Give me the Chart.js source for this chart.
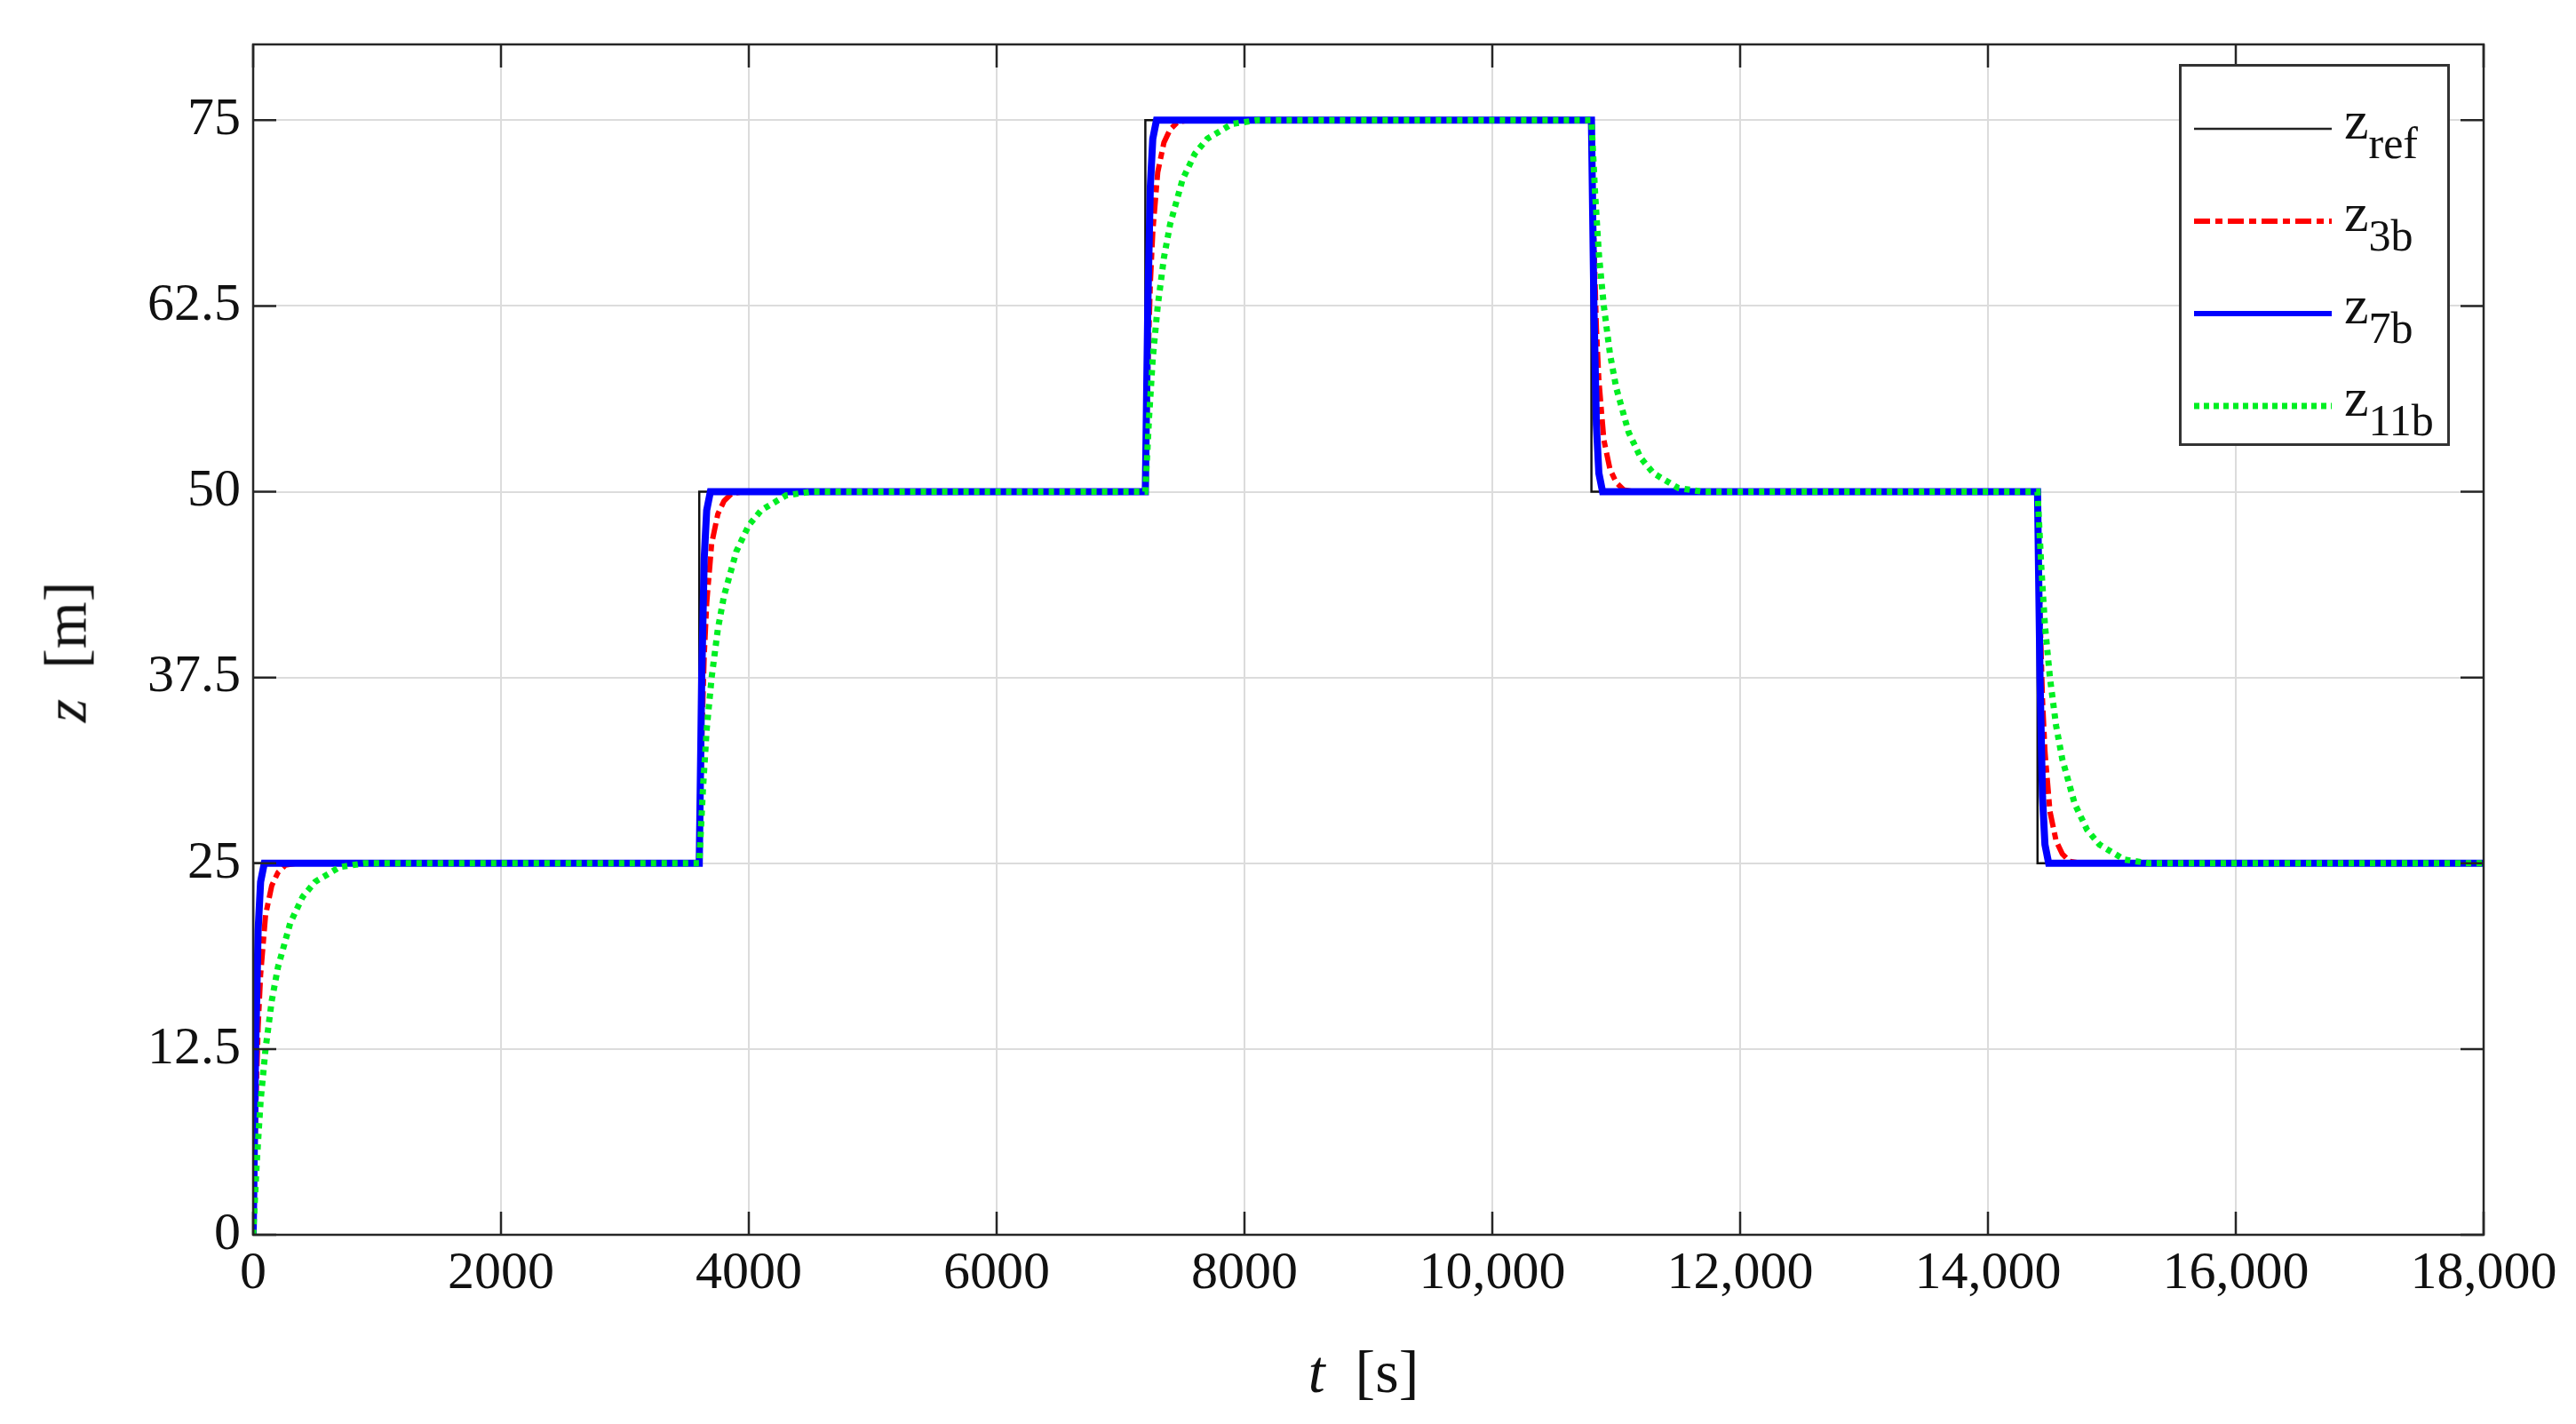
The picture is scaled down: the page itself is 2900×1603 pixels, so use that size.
<!DOCTYPE html>
<html><head><meta charset="utf-8">
<script src="https://cdn.jsdelivr.net/npm/chart.js@4"></script>
<style>
html,body{margin:0;padding:0;background:#fff;}
#wrap{position:relative;width:2900px;height:1603px;}
#legend{position:absolute;border:3px solid #333;background:#fff;font-family:"Liberation Serif",serif;color:#111;box-sizing:border-box;}
.row{position:absolute;left:14px;height:100px;display:flex;align-items:center;}
.row svg{width:155px;height:20px;}
.lab{font-size:62px;margin-left:14px;line-height:1;}
.lab sub{font-size:50px;vertical-align:-22px;}
.ttl{position:absolute;font-family:"Liberation Serif",serif;font-size:68px;color:#111;white-space:nowrap;}
</style></head><body>
<div id="wrap"><canvas id="c" width="2900" height="1603"></canvas>
<div id="legend">
<div class="row" style="top:20px"><svg><line x1="0" y1="10" x2="155" y2="10" stroke="#222" stroke-width="2.5"/></svg><span class="lab">z<sub>ref</sub></span></div>
<div class="row" style="top:124px"><svg><line x1="0" y1="10" x2="155" y2="10" stroke="#ff0000" stroke-width="6" stroke-dasharray="18,6,8,6"/></svg><span class="lab">z<sub>3b</sub></span></div>
<div class="row" style="top:228px"><svg><line x1="0" y1="10" x2="155" y2="10" stroke="#0000ff" stroke-width="6"/></svg><span class="lab">z<sub>7b</sub></span></div>
<div class="row" style="top:332px"><svg><line x1="0" y1="10" x2="155" y2="10" stroke="#00ee22" stroke-width="7" stroke-dasharray="6,5"/></svg><span class="lab">z<sub>11b</sub></span></div>
</div>
<div class="ttl" id="xt" style="left:1535px;top:1505px;transform:translateX(-50%)"><i>t</i>&nbsp;&nbsp;[s]</div>
<div class="ttl" id="yt" style="left:74px;top:734px;transform:translate(-50%,-50%) rotate(-90deg)"><i>z</i>&nbsp;&nbsp;[m]</div>
</div>
<script>
// Setpoint steps (time, new level)
const stepTimes = [0, 3600, 7200, 10800, 14400];
const stepLevels = [25, 50, 75, 50, 25];
const tEnd = 18000;
// Read response shapes: offset after step [s] and fraction of step completed
const blueOffsets = [0, 20, 40, 60, 90, 130];
const blueFrac   = [0, 0.5, 0.82, 0.95, 1.0, 1.0];
const redOffsets = [0, 20, 40, 60, 100, 150, 200, 260, 350];
const redFrac    = [0, 0.33, 0.56, 0.7, 0.86, 0.94, 0.975, 0.995, 1.0];
const greenOffsets = [0, 30, 60, 100, 150, 200, 300, 400, 500, 700, 900];
const greenFrac    = [0, 0.2, 0.36, 0.5, 0.63, 0.72, 0.84, 0.91, 0.95, 0.99, 1.0];
const xTicks = [0,2000,4000,6000,8000,10000,12000,14000,16000,18000];
const yTicks = [0,12.5,25,37.5,50,62.5,75];

function refSeries(){
  const pts=[{x:0,y:0}];
  stepLevels.forEach((lv,i)=>{pts.push({x:stepTimes[i],y:lv});
    pts.push({x:(i+1<stepTimes.length?stepTimes[i+1]:tEnd),y:lv});});
  return pts;
}
function respSeries(offs,frac){
  const pts=[];let prev=0;
  stepLevels.forEach((lv,i)=>{
    offs.forEach((o,k)=>pts.push({x:stepTimes[i]+o,y:prev+(lv-prev)*frac[k]}));
    prev=lv;
  });
  pts.push({x:tEnd,y:prev});
  return pts;
}
const frame={id:'frame',afterDraw(ch){
  const a=ch.chartArea,ctx=ch.ctx;ctx.save();
  ctx.strokeStyle='#262626';ctx.lineWidth=2.5;
  ctx.strokeRect(a.left,a.top,a.right-a.left,a.bottom-a.top);
  const xs=ch.scales.x,ys=ch.scales.y;
  xTicks.forEach(v=>{const p=xs.getPixelForValue(v);
    ctx.beginPath();ctx.moveTo(p,a.bottom);ctx.lineTo(p,a.bottom-26);ctx.moveTo(p,a.top);ctx.lineTo(p,a.top+26);ctx.stroke();});
  yTicks.forEach(v=>{const p=ys.getPixelForValue(v);
    ctx.beginPath();ctx.moveTo(a.left,p);ctx.lineTo(a.left+26,p);ctx.moveTo(a.right,p);ctx.lineTo(a.right-26,p);ctx.stroke();});
  ctx.restore();
  const L=document.getElementById('legend');
  L.style.left='2453px';L.style.top='72px';L.style.width='305px';L.style.height='430px';
}};
const font={family:'"Liberation Serif", serif',size:60};
new Chart(document.getElementById('c'),{
  type:'line',
  data:{datasets:[
    {label:'z_ref',data:refSeries(),borderColor:'#111',borderWidth:2.5,pointRadius:0,order:4},
    {label:'z_3b',data:respSeries(redOffsets,redFrac),borderColor:'#ff0000',borderWidth:6,borderDash:[18,6,8,6],pointRadius:0,order:3},
    {label:'z_7b',data:respSeries(blueOffsets,blueFrac),borderColor:'#0000ff',borderWidth:8,pointRadius:0,order:2},
    {label:'z_11b',data:respSeries(greenOffsets,greenFrac),borderColor:'#00ee22',borderWidth:7,borderDash:[6,6],pointRadius:0,order:1}
  ]},
  options:{responsive:false,animation:false,
    layout:{padding:{top:16,right:104,left:0,bottom:0}},
    plugins:{legend:{display:false},tooltip:{enabled:false}},
    scales:{
      x:{type:'linear',min:0,max:18000,afterFit(s){s.height=213;},
        afterBuildTicks(s){s.ticks=xTicks.map(v=>({value:v}));},
        ticks:{color:'#111',font,padding:8,maxRotation:0,callback:v=>v>=10000?v.toLocaleString('en-US'):String(v)},
        grid:{color:'#dcdcdc',lineWidth:2,drawTicks:false},border:{display:false}},
      y:{type:'linear',min:0,max:80.1,afterFit(s){s.width=285;},
        afterBuildTicks(s){s.ticks=yTicks.map(v=>({value:v}));},
        ticks:{color:'#111',font,padding:14},
        grid:{color:'#dcdcdc',lineWidth:2,drawTicks:false},border:{display:false}}
    }},
  plugins:[frame]
});
</script></body></html>
